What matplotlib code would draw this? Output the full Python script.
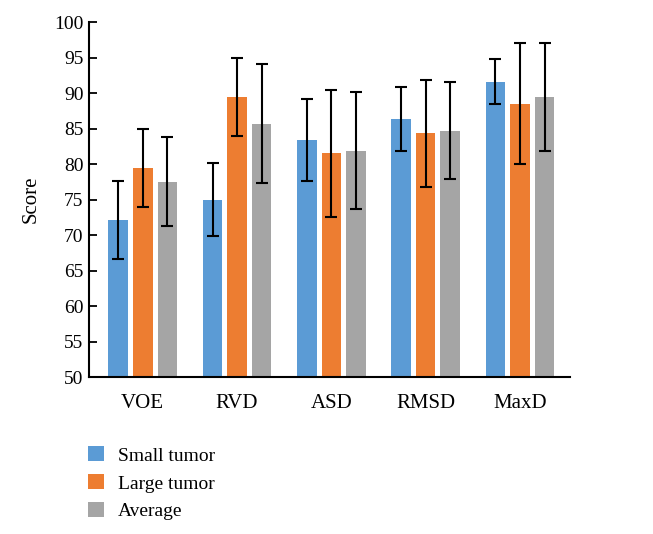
import matplotlib.pyplot as plt
import numpy as np

categories = ['VOE', 'RVD', 'ASD', 'RMSD', 'MaxD']
small_tumor = [72.1, 75.0, 83.4, 86.3, 91.6]
small_err = [5.5, 5.2, 5.8, 4.5, 3.2]
large_tumor = [79.4, 89.4, 81.5, 84.3, 88.5]
large_err = [5.5, 5.5, 8.9, 7.6, 8.5]
average = [77.5, 85.7, 81.9, 84.7, 89.4]
average_err = [6.3, 8.4, 8.2, 6.8, 7.6]

plt.rcParams['font.family'] = ['Liberation Serif', 'DejaVu Serif']

fig = plt.figure(figsize=(6.53, 5.34), dpi=100)
ax = fig.add_axes([0.1363, 0.294, 0.7366, 0.6648])

x = np.arange(len(categories))
width = 0.207
offset = 0.26
err_kw = dict(ecolor='black', capsize=4.5, elinewidth=1.5, capthick=1.5)

ax.bar(x - offset, small_tumor, width, yerr=small_err, color='#5B9BD5',
       label='Small tumor', error_kw=err_kw)
ax.bar(x, large_tumor, width, yerr=large_err, color='#ED7D31',
       label='Large tumor', error_kw=err_kw)
ax.bar(x + offset, average, width, yerr=average_err, color='#A5A5A5',
       label='Average', error_kw=err_kw)

ax.set_ylim(50, 100)
ax.set_xlim(-0.57, 4.53)
ax.set_yticks(np.arange(50, 101, 5))
ax.set_xticks(x)
ax.set_xticklabels(categories, fontsize=15)
ax.tick_params(axis='y', direction='in', length=6, width=1.3, labelsize=14, pad=4)
ax.tick_params(axis='x', length=0, pad=12)
ax.set_ylabel('Score', fontsize=15, labelpad=10)

for side in ['top', 'right']:
    ax.spines[side].set_visible(False)
for side in ['left', 'bottom']:
    ax.spines[side].set_linewidth(1.5)

fig.legend(loc='upper left', bbox_to_anchor=(0.135, 0.164), frameon=False,
           fontsize=14, handlelength=0.8, handleheight=0.8,
           handletextpad=0.75, labelspacing=0.5, borderpad=0, borderaxespad=0)

fig.savefig('out.png', dpi=100)
